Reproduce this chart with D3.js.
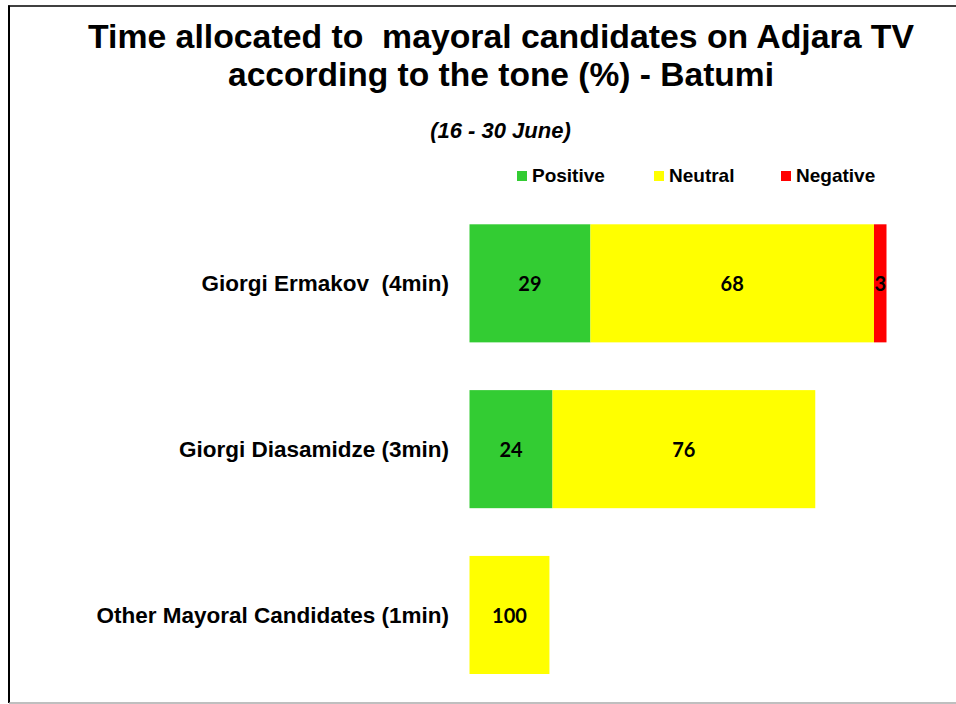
<!DOCTYPE html>
<html>
<head>
<meta charset="utf-8">
<script src="https://cdn.jsdelivr.net/npm/d3@7"></script>
<style>
  html, body { margin: 0; padding: 0; background: #fff; }
  svg { display: block; }
</style>
</head>
<body>
<svg id="chart" width="956" height="704"></svg>
<script>
// ---- data ----
const categories = ["Giorgi Ermakov  (4min)", "Giorgi Diasamidze (3min)", "Other Mayoral Candidates (1min)"];
const totalSeconds = [240, 199, 46];           // estimated airtime per candidate
const tones = ["Positive", "Neutral", "Negative"];
const positive = [29, 24, 0];
const neutral = [68, 76, 100];
const negative = [3, 0, 0];
const toneColors = ["#33CC33", "#FFFF00", "#FF0000"];
const titleLines = ["Time allocated to  mayoral candidates on Adjara TV", "according to the tone (%) - Batumi"];
const subtitle = "(16 - 30 June)";

const svg = d3.select("#chart");
const W = 956, H = 704;
const font = "'Liberation Sans', Arial, sans-serif";

// frame
svg.append("line").attr("x1", 8).attr("x2", W).attr("y1", 6).attr("y2", 6)
  .attr("stroke", "#000").attr("stroke-width", 1.5);
svg.append("line").attr("x1", 9).attr("x2", 9).attr("y1", 5.5).attr("y2", 703)
  .attr("stroke", "#000").attr("stroke-width", 2);
svg.append("line").attr("x1", 9).attr("x2", W).attr("y1", 703).attr("y2", 703)
  .attr("stroke", "#aaa").attr("stroke-width", 1.5);

// title
const titleWidths = [826, 546];
const titleBase = [47.5, 85.5];
titleLines.forEach((t, i) => {
  svg.append("text").attr("x", 501).attr("y", titleBase[i]).attr("text-anchor", "middle")
    .attr("font-family", font).attr("font-weight", "bold").attr("font-size", 33)
    .attr("textLength", titleWidths[i]).attr("lengthAdjust", "spacingAndGlyphs")
    .style("white-space", "pre")
    .text(t);
});
svg.append("text").attr("x", 500.5).attr("y", 138).attr("text-anchor", "middle")
  .attr("font-family", font).attr("font-weight", "bold").attr("font-style", "italic")
  .attr("font-size", 22).text(subtitle);

// legend
const legendX = [517, 654, 781];
const lg = svg.append("g");
tones.forEach((t, i) => {
  lg.append("rect").attr("x", legendX[i]).attr("y", 171).attr("width", 10).attr("height", 10)
    .attr("fill", toneColors[i]);
  lg.append("text").attr("x", legendX[i] + 15).attr("y", 182)
    .attr("font-family", font).attr("font-weight", "bold").attr("font-size", 19)
    .text(t);
});

// scales
const x = d3.scaleLinear().domain([0, 240]).range([469.5, 886.5]);
const yb = d3.scaleBand().domain(categories).range([224.3, 674]).paddingInner(0.288).paddingOuter(0);

const rows = categories.map((c, i) => {
  const vals = [positive[i], neutral[i], negative[i]];
  let acc = 0;
  return vals.map((v, k) => {
    const s0 = acc; acc += v;
    return { cat: c, tone: tones[k], pct: v, x0: totalSeconds[i] * s0 / 100, x1: totalSeconds[i] * acc / 100, color: toneColors[k] };
  }).filter(d => d.pct > 0);
}).flat();

const g = svg.append("g");
g.selectAll("rect.seg").data(rows).join("rect").attr("class", "seg")
  .attr("x", d => x(d.x0)).attr("width", d => x(d.x1) - x(d.x0))
  .attr("y", d => yb(d.cat)).attr("height", yb.bandwidth())
  .attr("fill", d => d.color);

g.selectAll("text.val").data(rows).join("text").attr("class", "val")
  .attr("x", d => (x(d.x0) + x(d.x1)) / 2)
  .attr("y", d => yb(d.cat) + yb.bandwidth() / 2 + 8)
  .attr("text-anchor", "middle")
  .attr("font-family", "Lato, 'Open Sans', sans-serif").attr("font-weight", "bold").attr("font-size", 20)
  .attr("fill", "#000")
  .text(d => d.pct);

// category axis labels
const yAxis = d3.axisLeft(yb).tickSize(0).tickPadding(0);
const ax = svg.append("g").attr("transform", "translate(449,0)").call(yAxis);
ax.select(".domain").remove();
ax.selectAll("text").attr("font-family", font).attr("font-weight", "bold")
  .attr("font-size", 22.5).attr("fill", "#000").attr("dy", "0.35em")
  .style("white-space", "pre");
</script>
</body>
</html>
